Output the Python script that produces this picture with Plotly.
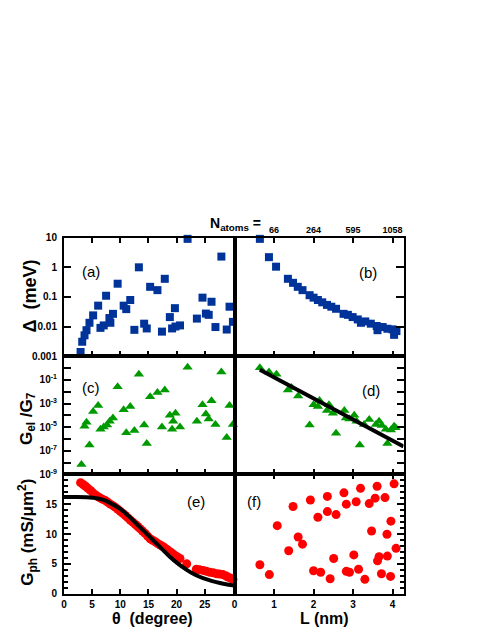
import plotly.graph_objects as go

# panel (a): level spacing vs twist angle
theta_a = [2.95, 3.24, 3.65, 4.0, 4.53, 5.18, 6.07, 7.48, 6.48, 7.06, 8.07, 8.24, 8.7, 9.53,
           10.6, 11.06, 11.77, 12.5, 13.3, 14.24, 14.7, 15.3, 16.6, 17.4, 17.9, 18.8, 19.2,
           19.7, 19.8, 20.6, 21.95, 23.6, 24.6, 25.2, 25.7, 26.2, 26.9, 27.95, 28.9, 29.4, 30.0]
delta_a = [0.0014, 0.0031, 0.0051, 0.0076, 0.0135, 0.024, 0.051, 0.11, 0.0091, 0.011, 0.0195,
           0.0135, 0.027, 0.28, 0.051, 0.039, 0.079, 0.0078, 1.0, 0.0126, 0.0087, 0.22, 0.17,
           0.0068, 0.41, 0.021, 0.0087, 0.042, 0.0101, 0.011, 9.1, 0.0187, 0.095, 0.0276, 0.025,
           0.069, 0.0097, 2.3, 0.0080, 0.047, 0.0145]

# panel (b): level spacing vs moire length
L_b = [0.64, 0.87, 1.05, 1.35, 1.48, 1.60, 1.72, 1.90, 2.0, 2.11, 2.22, 2.34, 2.45, 2.57,
       2.76, 2.87, 2.99, 3.12, 3.20, 3.31, 3.45, 3.60, 3.62, 3.75, 3.87, 4.0, 4.04, 4.10]
delta_b = [9.1, 2.2, 1.05, 0.41, 0.30, 0.22, 0.17, 0.115, 0.095, 0.079, 0.066, 0.054, 0.047,
           0.040, 0.027, 0.025, 0.021, 0.0175, 0.0135, 0.015, 0.0126, 0.0105, 0.0076, 0.0097,
           0.0085, 0.0081, 0.0053, 0.0071]

# panel (c): electronic conductance vs angle
theta_c = [3.1, 3.65, 4.0, 4.53, 5.18, 6.07, 6.48, 7.06, 7.65, 8.12, 8.7, 9.53, 10.6, 11.06,
           11.77, 12.5, 13.3, 14.24, 14.7, 15.3, 16.6, 17.4, 17.9, 18.8, 19.2, 19.4, 19.8,
           20.6, 21.95, 23.6, 24.6, 25.2, 25.7, 26.2, 26.9, 27.95, 28.9, 29.4, 30.0]
gel_c = [6.8e-9, 1.2e-5, 2.6e-5, 3.0e-7, 2.1e-4, 6.8e-4, 6.5e-6, 1.0e-5, 1.5e-5, 3.2e-5,
         6.0e-5, 2.6e-2, 3.0e-4, 3.4e-6, 5.6e-4, 5.2e-6, 0.30, 1.5e-5, 4.1e-7, 3.8e-3, 8.7e-3,
         1.0e-5, 1.4e-2, 1.0e-4, 6.5e-6, 3.2e-5, 1.5e-4, 1.0e-5, 1.2, 3.2e-5, 7.8e-4, 1.3e-4,
         4.9e-5, 1.7e-3, 1.7e-5, 0.47, 1.3e-6, 6.8e-4, 1.7e-5]

# panel (d): electronic conductance vs length, with exponential fit
L_d = [0.64, 0.87, 1.06, 1.35, 1.44, 1.61, 1.90, 2.0, 2.11, 2.15, 2.34, 2.39, 2.49, 2.57,
       2.78, 2.82, 2.91, 3.03, 3.09, 3.17, 3.28, 3.41, 3.58, 3.66, 3.73, 3.83, 3.87, 3.96,
       4.04, 4.08]
gel_d = [1.07, 0.47, 0.30, 1.4e-2, 2.3e-2, 4.4e-3, 1.5e-5, 7.8e-4, 5.6e-4, 1.8e-3, 2.6e-4,
         7.8e-4, 1.5e-4, 3.0e-6, 2.6e-4, 6.0e-5, 4.9e-5, 1.0e-4, 3.2e-5, 3.0e-7, 1.7e-5,
         4.4e-5, 1.7e-5, 3.2e-5, 1.4e-5, 6.5e-6, 4.1e-7, 5.6e-6, 1.2e-5, 8.7e-6]
fit_L = [0.64, 4.28]
fit_gel = [0.72, 2.3e-7]

# panel (e): phonon conductance vs angle, with model curve
theta_e = [2.95, 3.4, 3.83, 4.25, 4.7, 5.15, 5.6, 6.05, 6.5, 6.9, 7.35, 7.8, 8.24, 8.7, 9.1,
           9.55, 10.0, 10.45, 10.9, 11.35, 11.8, 12.25, 12.7, 13.1, 13.5, 13.95, 14.4, 14.85,
           15.3, 15.75, 16.2, 16.65, 17.1, 17.55, 18.0, 18.45, 18.9, 19.3, 19.7, 20.15, 20.6,
           21.8, 23.5, 24.1, 24.7, 25.3, 25.9, 26.5, 27.1, 27.6, 28.2, 28.7, 29.1, 29.6, 30.0]
gph_e = [18.6, 18.3, 18.0, 17.65, 17.3, 16.9, 16.55, 16.25, 16.0, 15.8, 15.6, 15.3, 15.0,
         14.75, 14.5, 14.15, 13.8, 13.45, 13.1, 12.7, 12.3, 11.95, 11.6, 11.25, 10.9, 10.5,
         10.1, 9.65, 9.2, 8.95, 8.7, 8.4, 8.15, 7.9, 7.6, 7.3, 7.0, 6.7, 6.4, 6.15, 5.9,
         5.0, 4.1, 4.0, 3.9, 3.75, 3.6, 3.5, 3.35, 3.3, 3.2, 3.0, 2.8, 2.6, 2.4]
curve_theta = [0, 2, 4, 6, 7, 8, 10, 11.5, 12.9, 14.3, 15.8, 17.3, 18.8, 20.3, 21.8, 23.2,
               24.7, 26.2, 27.7, 29.0, 30.3]
curve_gph = [16.2, 16.2, 16.15, 15.95, 15.7, 15.3, 14.2, 13.0, 11.7, 10.4, 9.0, 7.6, 6.2,
             5.0, 4.0, 3.2, 2.6, 2.15, 1.8, 1.55, 1.35]

# panel (f): phonon conductance vs length
L_f = [0.64, 0.88, 1.08, 1.37, 1.48, 1.61, 1.72, 1.92, 2.0, 2.11, 2.18, 2.35, 2.35, 2.42,
       2.51, 2.57, 2.77, 2.83, 2.83, 2.91, 3.02, 3.08, 3.14, 3.19, 3.30, 3.41, 3.47, 3.56,
       3.61, 3.62, 3.66, 3.72, 3.81, 3.86, 3.87, 3.95, 3.96, 4.04, 4.09]
gph_f = [4.85, 3.2, 11.4, 7.2, 14.6, 9.5, 8.3, 15.7, 3.85, 12.8, 3.6, 16.3, 13.75, 2.5, 5.9,
         13.25, 16.9, 15.0, 3.75, 3.6, 6.5, 15.4, 4.1, 17.65, 2.4, 15.1, 10.5, 16.0, 18.0,
         5.5, 6.2, 3.35, 16.1, 9.95, 6.3, 2.9, 12.15, 18.4, 7.6]

# top axis: number of atoms at given L
natoms_L = [1, 2, 3, 4]
natoms_text = ['66', '264', '595', '1058']

BLUE = '#003399'
GREEN = '#009900'
RED = '#ff0000'
FONT = 'Liberation Sans'
W, H = 485, 627

def px(x, y):
    return x / W, 1 - y / H

xl = [53.3 / W, 225 / W]
xr = [225 / W, 395 / W]
ya = [1 - 349 / H, 1 - 228 / H]
yc = [1 - 469.3 / H, 1 - 349 / H]
ye = [1 - 591 / H, 1 - 469.3 / H]

fig = go.Figure()
sq = dict(symbol='square', size=8, color=BLUE)
tri = dict(symbol='triangle-up', size=9, color=GREEN)
circ = dict(symbol='circle', size=9, color=RED)

fig.add_trace(go.Scatter(x=theta_a, y=delta_a, mode='markers', marker=sq, xaxis='x', yaxis='y', cliponaxis=False))
fig.add_trace(go.Scatter(x=L_b, y=delta_b, mode='markers', marker=sq, xaxis='x2', yaxis='y2', cliponaxis=False))
fig.add_trace(go.Scatter(x=theta_c, y=gel_c, mode='markers', marker=tri, xaxis='x3', yaxis='y3', cliponaxis=False))
fig.add_trace(go.Scatter(x=L_d, y=gel_d, mode='markers', marker=tri, xaxis='x4', yaxis='y4', cliponaxis=False))
fig.add_trace(go.Scatter(x=fit_L, y=fit_gel, mode='lines', line=dict(color='black', width=4), xaxis='x4', yaxis='y4'))
fig.add_trace(go.Scatter(x=theta_e, y=gph_e, mode='markers', marker=circ, xaxis='x5', yaxis='y5', cliponaxis=False))
fig.add_trace(go.Scatter(x=curve_theta, y=curve_gph, mode='lines', line=dict(color='black', width=4, shape='spline'), xaxis='x5', yaxis='y5'))
fig.add_trace(go.Scatter(x=L_f, y=gph_f, mode='markers', marker=circ, xaxis='x6', yaxis='y6', cliponaxis=False))
# invisible trace to hold the top N_atoms axis
fig.add_trace(go.Scatter(x=natoms_L, y=[1, 1, 1, 1], mode='markers', marker=dict(opacity=0), xaxis='x7', yaxis='y2', hoverinfo='skip'))

tickfont = dict(family=FONT, size=10, color='black', weight='bold')
base = dict(showline=True, linewidth=2, linecolor='black', mirror=True, ticks='inside',
            tickcolor='black', tickwidth=1.5, showgrid=False, zeroline=False, tickfont=tickfont)

theta_ticks = [0, 5, 10, 15, 20, 25]
L_ticks = [0, 1, 2, 3, 4]
dec_a = [0.001, 0.01, 0.1, 1, 10]
dec_c = [10.0 ** k for k in range(-9, 2)]
dec_c_text = ['10<sup>%d</sup>' % k if k % 2 and k < 0 else '' for k in range(-9, 2)]

fig.update_layout(
    width=W, height=H, margin=dict(l=0, r=0, t=0, b=0),
    plot_bgcolor='white', paper_bgcolor='white', showlegend=False,
    xaxis=dict(base, domain=xl, anchor='y', range=[0, 30.3], tickvals=theta_ticks, showticklabels=False, ticklen=5, mirror='ticks'),
    yaxis=dict(base, domain=ya, anchor='x', type='log', range=[-3, 1], tickvals=dec_a,
               ticktext=['0.001', '0.01', '0.1', '1', '10'], ticklen=7, ticklabelstandoff=3),
    xaxis2=dict(base, domain=xr, anchor='y2', range=[0, 4.28], tickvals=L_ticks, showticklabels=False, ticklen=5, mirror='ticks'),
    yaxis2=dict(base, domain=ya, anchor='x2', side='right', type='log', range=[-3, 1], tickvals=dec_a, showticklabels=False, ticklen=8),
    xaxis3=dict(base, domain=xl, anchor='y3', range=[0, 30.3], tickvals=theta_ticks, showticklabels=False, ticklen=5),
    yaxis3=dict(base, domain=yc, anchor='x3', type='log', range=[-9, 1], tickvals=dec_c, ticktext=dec_c_text, ticklen=7, ticklabelstandoff=3),
    xaxis4=dict(base, domain=xr, anchor='y4', range=[0, 4.28], tickvals=L_ticks, showticklabels=False, ticklen=5),
    yaxis4=dict(base, domain=yc, anchor='x4', side='right', type='log', range=[-9, 1], tickvals=dec_c, showticklabels=False, ticklen=7),
    xaxis5=dict(base, domain=xl, anchor='y5', range=[0, 30.3], tickvals=theta_ticks, ticklen=5, ticklabelstandoff=0),
    yaxis5=dict(base, domain=ye, anchor='x5', range=[0, 20], tickvals=[0, 5, 10, 15], ticklen=7, ticklabelstandoff=3,
                minor=dict(dtick=1, ticklen=4, ticks='inside', tickcolor='black', tickwidth=1.5)),
    xaxis6=dict(base, domain=xr, anchor='y6', range=[0, 4.28], tickvals=L_ticks, ticklen=5, ticklabelstandoff=0, mirror='ticks'),
    yaxis6=dict(base, domain=ye, anchor='x6', side='right', range=[0, 20], tickvals=[0, 5, 10, 15, 20], showticklabels=False, ticklen=7,
                minor=dict(dtick=1, ticklen=4, ticks='inside', tickcolor='black', tickwidth=1.5)),
    xaxis7=dict(overlaying='x2', anchor='y2', side='top', range=[0, 4.28], tickvals=natoms_L, ticktext=natoms_text,
                ticks='', showline=False, showgrid=False, zeroline=False, tickfont=dict(tickfont, size=9), ticklabelstandoff=2),
)

ann = []
def label(text, x, y, size, bold=True, angle=0):
    xp, yp = px(x, y)
    ann.append(dict(text=text, x=xp, y=yp, xref='paper', yref='paper', showarrow=False,
                    textangle=angle, xanchor='center', yanchor='middle',
                    font=dict(family=FONT, size=size, color='black', weight='bold' if bold else 'normal')))

for t, x, y in [('(a)', 81, 263), ('(b)', 359, 264), ('(c)', 80, 381),
                ('(d)', 362, 384), ('(e)', 186, 497), ('(f)', 245, 497)]:
    label(t, x, y, 15, bold=False)

label('\u0394  (meV)', 19, 287, 18, angle=-90)
label('G<sub>el</sub> /G<sub>7</sub>', 17, 412, 17, angle=-90)
label('G<sub>ph</sub> (mS/\u03bcm<sup>2</sup>)', 17, 528, 17, angle=-90)
label('\u03b8  (degree)', 142, 616, 16)
label('L (nm)', 315, 616, 16)
label('N<sub>atoms</sub> =', 226, 214, 14)
fig.update_layout(annotations=ann)

fig.write_html("out.html")
